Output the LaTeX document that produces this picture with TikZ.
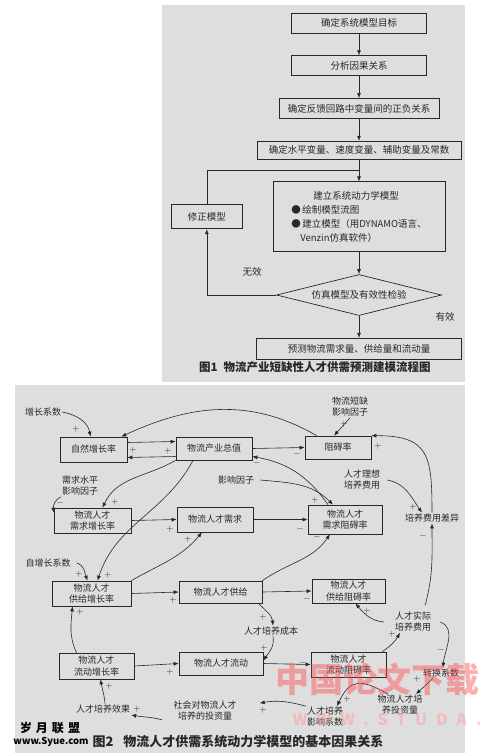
\documentclass[tikz,border=0pt]{standalone}
\usepackage{fontspec}
\setmainfont{Noto Sans CJK SC}
\usepackage{xcolor}
\usepackage{tikz}
\usetikzlibrary{arrows.meta,positioning,shapes.geometric,calc}

\definecolor{panelgray}{RGB}{222,222,222}
\definecolor{inkgray}{RGB}{40,40,40}

\begin{document}
\begin{tikzpicture}[
  x=1pt, y=-1pt,
  node distance=22pt,
  every node/.style={text=inkgray},
  stage/.style={draw=inkgray, line width=0.7pt, align=center, inner sep=2pt, minimum height=20pt, font=\fontsize{9.5}{11}\selectfont},
  decision/.style={draw=inkgray, line width=0.7pt, diamond, aspect=4, inner sep=0pt, minimum width=165pt, minimum height=41pt, font=\fontsize{9.5}{11}\selectfont},
  var/.style={draw=inkgray, line width=0.7pt, align=center, inner sep=1pt, font=\fontsize{9}{11.5}\selectfont},
  factor/.style={align=center, inner sep=1pt, font=\fontsize{9}{11}\selectfont},
  sgn/.style={inner sep=0pt, font=\fontsize{9}{9}\selectfont},
  arrow/.style={-{Latex[length=5pt,width=4pt]}, line width=0.6pt, draw=inkgray},
  line/.style={line width=0.6pt, draw=inkgray}
]
\useasboundingbox (0,0) rectangle (488,753);
\fill[panelgray] (162,5) rectangle (465,382);
\fill[panelgray] (15,385) rectangle (465,753);

% figure 1: modelling flow
\node[stage, minimum width=135pt] (goal) at (359,23) {确定系统模型目标};
\node[stage, minimum width=135pt, below=of goal] (cause) {分析因果关系};
\node[stage, minimum width=160pt, below=of cause] (sign) {确定反馈回路中变量间的正负关系};
\node[stage, minimum width=204pt, minimum height=18pt, below=of sign] (params) {确定水平变量、速度变量、辅助变量及常数};
\node[stage, minimum width=172pt, minimum height=70pt, align=left, font=\fontsize{9.5}{14}\selectfont, below=of params] (model)
  {\hspace*{22pt}建立系统动力学模型\\●\,绘制模型流图\\●\,建立模型（用DYNAMO语言、\\\hspace*{9pt}Venzin仿真软件）};
\node[decision, below=of model] (check) {仿真模型及有效性检验};
\node[stage, minimum width=205pt, minimum height=21pt, below=of check] (forecast) {预测物流需求量、供给量和流动量};
\node[stage, minimum width=71pt, minimum height=24pt, left=30pt of model] (fix) {修正模型};
\node[factor, font=\fontsize{9.5}{11}\selectfont] (invalid) at (252,272) {无效};
\node[factor, font=\fontsize{9.5}{11}\selectfont] (valid) at (445,317) {有效};
\node[font=\bfseries\fontsize{11.5}{13}\selectfont] (cap1) at (315,367) {图1\hspace{6pt}物流产业短缺性人才供需预测建模流程图};

\coordinate (fork) at ($(params.south)!0.5!(model.north)$);
\draw[arrow] (goal) -- (cause);
\draw[arrow] (cause) -- (sign);
\draw[arrow] (sign) -- (params);
\draw[arrow] (params) -- (model);
\draw[arrow] (model) -- (check);
\draw[arrow] (check) -- (forecast);
\draw[line] (fix.north) |- (fork);
\draw[arrow] (check.west) -| (fix.south);

% figure 2: causal loops
\node[var, minimum width=67pt, minimum height=25pt] (zr) at (93.5,449.5) {自然增长率};
\node[var, minimum width=76pt, minimum height=23pt] (cz) at (214,448.5) {物流产业总值};
\node[var, minimum width=66pt, minimum height=23pt] (zl) at (338,447.5) {阻碍率};
\node[var, minimum width=77pt, minimum height=25pt] (xqzz) at (92.5,520.5) {物流人才\\需求增长率};
\node[var, minimum width=76pt, minimum height=25pt] (xq) at (215,519.5) {物流人才需求};
\node[var, minimum width=74pt, minimum height=29pt] (xqzl) at (345,519.5) {物流人才\\需求阻碍率};
\node[var, minimum width=79pt, minimum height=25pt] (gjzz) at (91.5,593.5) {物流人才\\供给增长率};
\node[var, minimum width=83pt, minimum height=22pt] (gj) at (220.5,592) {物流人才供给};
\node[var, minimum width=73pt, minimum height=24pt] (gjzl) at (348.5,591) {物流人才\\供给阻碍率};
\node[var, minimum width=75pt, minimum height=26pt] (ldzz) at (96.5,666) {物流人才\\流动增长率};
\node[var, minimum width=84pt, minimum height=23pt] (ld) at (221,663.5) {物流人才流动};
\node[var, minimum width=75pt, minimum height=25pt] (ldzl) at (348.5,664.5) {物流人才\\流动阻碍率};

\node[factor] (zzxs) at (43,412) {增长系数};
\node[factor] (dqyz) at (350,407) {物流短缺\\影响因子};
\node[factor] (xqyz) at (80,486) {需求水平\\影响因子};
\node[factor] (yxyz) at (236,480) {影响因子};
\node[factor] (lxfy) at (362,480) {人才理想\\培养费用};
\node[factor] (fycy) at (432,518) {培养费用差异};
\node[factor] (zzzxs) at (48,563) {自增长系数};
\node[factor] (pycb) at (271,631) {人才培养成本};
\node[factor] (sjfy) at (413,622) {人才实际\\培养费用};
\node[factor] (zhxs) at (441,673) {转换系数};
\node[factor] (tzl) at (400,705) {物流人才培\\养投资量};
\node[factor] (yxxs) at (325,717) {人才培养\\影响系数};
\node[factor] (shtz) at (205,711) {社会对物流人才\\培养的投资量};
\node[factor] (pyxg) at (103,709) {人才培养效果};
\node[font=\bfseries\fontsize{13}{14}\selectfont] (cap2) at (238,742) {图2\hspace{10pt}物流人才供需系统动力学模型的基本因果关系};

\draw[arrow] (zzxs.east) to[out=-10,in=100] ([xshift=-3pt]zr.north);
\draw[arrow] ([yshift=7pt]zr.east) -- ([yshift=7pt]cz.west);
\draw[arrow] ([yshift=-8pt]cz.west) -- ([yshift=-8pt]zr.east);
\draw[arrow] ([xshift=12pt]zl.north west) to[out=150,in=25] ([xshift=-6pt]zr.north east);
\draw[arrow] (cz.east) -- (zl.west);
\draw[arrow] (dqyz.south) -- ([xshift=-4pt]zl.north);
\draw[arrow] ([xshift=-17pt]xqzl.north) to[out=125,in=-10] ([yshift=-8pt]cz.east);
\draw[arrow] ([xshift=5pt]yxyz.east) to[out=-5,in=135] ([xshift=-12pt]xqzl.north);
\draw[arrow] (cz.south west) to[out=-150,in=65] ([xshift=10pt]xqzz.north);
\draw[arrow] ([xshift=-21pt]cz.south) to[out=-118,in=72] ([xshift=6pt]gjzz.north);
\draw[arrow] (xqyz.south west) to[out=-155,in=95] ([yshift=-5pt]xqzz.north west);
\draw[arrow] (xqzz.east) -- (xq.west);
\draw[arrow] (xq.east) -- (xqzl.west);
\draw[arrow] (gjzz.north east) to[out=30,in=-130] ([xshift=-13pt]xq.south);
\draw[arrow] (gj.north east) to[out=35,in=-125] ([xshift=-15pt]xqzl.south);
\draw[arrow] ([xshift=6pt]lxfy.east) to[out=-10,in=125] ([xshift=-10pt]fycy.north);
\draw[arrow] (fycy.north) to[out=90,in=0,looseness=1.5] (zl.north east);
\draw[arrow] ([xshift=-7pt,yshift=6pt]sjfy.north east) to[out=75,in=-90] (fycy.south);
\draw[arrow] ([xshift=5pt]zzzxs.east) to[out=-15,in=110] ([xshift=-4pt]gjzz.north);
\draw[arrow] (gjzz.east) -- (gj.west);
\draw[arrow] (gj.east) -- (gjzl.west);
\draw[arrow] ([xshift=-4pt]gj.south east) to[out=-45,in=95] ([xshift=2pt]pycb.north);
\draw[arrow] ([xshift=2pt]pycb.south) to[out=-80,in=55] ([yshift=3pt]ld.east);
\draw[arrow] ([xshift=-10pt]sjfy.west) to[out=175,in=-50] ([xshift=7pt]gjzl.south);
\draw[arrow] ([xshift=-20pt]ldzz.north) to[out=115,in=-95] ([xshift=-19pt]gjzz.south);
\draw[arrow] (ldzz.east) -- (ld.west);
\draw[arrow] (ld.east) -- (ldzl.west);
\draw[arrow] ([xshift=-4pt]ldzl.north east) to[out=35,in=-120] ([xshift=-13pt]sjfy.south);
\draw[arrow] ([xshift=8pt]sjfy.east) to[out=-20,in=85] ([xshift=2pt]zhxs.north);
\draw[arrow] ([xshift=-8pt]zhxs.south) -- ([xshift=16pt]tzl.north);
\draw[arrow] ([xshift=-12pt]tzl.north) to[out=150,in=65,looseness=1.5] ([xshift=12pt]yxxs.north);
\draw[arrow] (yxxs.north west) to[out=165,in=10] ([xshift=22pt,yshift=-3pt]shtz.north east);
\draw[arrow] ([xshift=-10pt,yshift=2pt]shtz.south west) to[out=165,in=-10] ([yshift=-6pt]pyxg.east);
\draw[arrow] ([xshift=2pt]pyxg.north) to[out=95,in=-80] ([xshift=4pt]ldzz.south);

% polarity marks
\foreach \px/\py/\s [count=\i] in {
  76/429/+, 133/450/+, 168/451/+, 297/454/-, 257/463/-, 344/424/+, 378/446/+,
  60/503/-, 115/502/+, 170/529/+, 188/539/+, 315/500/+, 300/529/-, 317/537/-,
  413/507/+, 423/536/-, 79/574/+, 108/575/+, 80/612/+, 173/600/+, 307/599/-,
  263/617/+, 264/648/+, 367/611/+, 170/672/+, 303/663/-, 392/634/+, 441/650/-,
  417/679/+, 347/699/+, 263/710/+, 137/709/+, 109/686/+}
  \node[sgn] (s\i) at (\px,\py) {$\s$};

% watermarks
\node[font=\bfseries\fontsize{12}{12}\selectfont, text=black] (wmsy) at (50,728) {岁\hspace{4pt}月\hspace{4pt}联\hspace{4pt}盟};
\node[font=\bfseries\fontsize{9.5}{10}\selectfont, text=black] (wmurl) at (51,742) {www.Syue.com};
\node[font=\bfseries\fontsize{34}{34}\selectfont, text=red!70!white, opacity=0.45] (wmcn) at (377,680) {中国论文下载};
\node[font=\bfseries\fontsize{16}{16}\selectfont\addfontfeatures{LetterSpace=55}, text=red!40!white, opacity=0.45] (wmweb) at (387,720) {WWW.STUDA.};
\end{tikzpicture}
\end{document}
